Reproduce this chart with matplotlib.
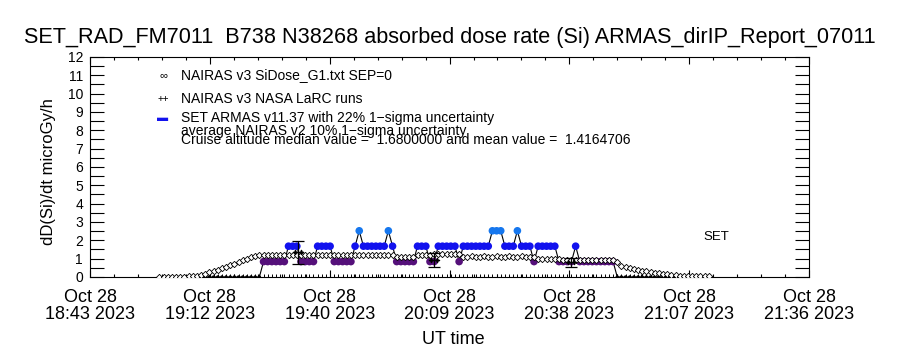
import matplotlib

matplotlib.use("Agg")
import matplotlib.pyplot as plt
import numpy as np
from matplotlib.ticker import AutoMinorLocator

plt.rcParams["font.family"] = ["Liberation Sans", "DejaVu Sans"]

# sample times, minutes after 18:00 UT on Oct 28 2023 (one-minute records)
t_min = list(range(60, 193))

# SET ARMAS dose rate, microGy/h
armas = [
    0, 0, 0, 0, 0, 0, 0, 0, 0, 0, 0, 0, 0, 0, 0, 0, 0, 0, 0, 0, 0, 0, 0, 0, 0,
    0.84, 0.84, 0.84, 0.84, 0.84, 0.84,
    1.68, 1.68, 1.68,
    0.84, 0.84, 0.84, 0.84,
    1.68, 1.68, 1.68, 1.68,
    0.84, 0.84, 0.84, 0.84, 0.84,
    1.68, 2.52,
    1.68, 1.68, 1.68, 1.68, 1.68, 1.68,
    2.52, 1.68,
    0.84, 0.84, 0.84, 0.84, 0.84,
    1.68, 1.68, 1.68,
    0.84, 0.84,
    1.68, 1.68, 1.68, 1.68, 1.68,
    0.84,
    1.68, 1.68, 1.68, 1.68, 1.68, 1.68, 1.68,
    2.52, 2.52, 2.52,
    1.68, 1.68, 1.68,
    2.52,
    1.68, 1.68, 1.68,
    0.84,
    1.68, 1.68, 1.68, 1.68, 1.68,
    0.84, 0.84, 0.84, 0.84,
    1.68,
    0.84, 0.84, 0.84, 0.84, 0.84, 0.84, 0.84, 0.84, 0.84,
    0, 0, 0, 0, 0, 0, 0, 0, 0, 0, 0, 0, 0, 0, 0, 0, 0, 0, 0, 0, 0, 0, 0,
]

# NAIRAS v3 SiDose_G1 model, same time grid
nairas = [
    0.02, 0.02, 0.02, 0.02, 0.02, 0.02, 0.02,
    0.03, 0.05, 0.08, 0.12, 0.18, 0.25, 0.32, 0.40, 0.48, 0.56, 0.64, 0.72,
    0.82, 0.90, 0.98, 1.08, 1.15, 1.20,
    1.22, 1.20, 1.22, 1.20, 1.20, 1.22, 1.20, 1.20, 1.22, 1.20, 1.20, 1.20,
    1.22, 1.20, 1.20, 1.22, 1.20, 1.20, 1.20, 1.22, 1.20, 1.20, 1.22, 1.20,
    1.20, 1.22, 1.20, 1.20, 1.20, 1.22, 1.20, 1.20,
    1.10, 1.10, 1.10, 1.10, 1.10,
    1.20, 1.22, 1.22, 1.22, 1.24, 1.24, 1.24, 1.24, 1.24, 1.24, 1.24,
    1.10, 1.10, 1.12, 1.10, 1.10, 1.12, 1.10, 1.10, 1.12, 1.10, 1.10, 1.12,
    1.10, 1.10, 1.12, 1.10, 1.10, 1.10,
    1.00, 1.00, 1.00, 0.98, 0.98, 0.98,
    0.95, 0.95, 0.95, 0.95, 0.95, 0.95, 0.95, 0.95, 0.95, 0.95, 0.95, 0.95, 0.95,
    0.80, 0.62, 0.56, 0.50, 0.44, 0.40, 0.35, 0.30, 0.27, 0.23, 0.20, 0.17,
    0.14, 0.12, 0.10, 0.08, 0.07,
    0.05, 0.05, 0.05, 0.05, 0.05, 0.05,
]

# NAIRAS v3 NASA LaRC runs with 10% uncertainty bars
larc_t = [93.3, 126.0, 159.0]
larc_val = [1.35, 0.93, 0.80]
larc_err = [0.63, 0.36, 0.23]

x_range = (43.3, 216.1)
x_tick_labels = [
    "Oct 28\n18:43 2023",
    "Oct 28\n19:12 2023",
    "Oct 28\n19:40 2023",
    "Oct 28\n20:09 2023",
    "Oct 28\n20:38 2023",
    "Oct 28\n21:07 2023",
    "Oct 28\n21:36 2023",
]
y_ticks = list(range(0, 13))

level_colors = {0: "black", 0.84: "#55107a", 1.68: "#1212ee", 2.52: "#1677ee"}

title = "SET_RAD_FM7011  B738 N38268 absorbed dose rate (Si) ARMAS_dirIP_Report_07011"
legend_lines = [
    "NAIRAS v3 SiDose_G1.txt SEP=0",
    "NAIRAS v3 NASA LaRC runs",
    "SET ARMAS v11.37 with 22% 1\u2212sigma uncertainty",
    "average NAIRAS v2 10% 1\u2212sigma uncertainty",
    "Cruise altitude median value =  1.6800000 and mean value =  1.4164706",
]

fig = plt.figure(figsize=(9, 3.5), dpi=100)
ax = fig.add_axes([0.1, 0.2086, 0.799, 0.6286])

ax.plot(t_min, np.zeros(len(t_min)), ls="none", marker="|", ms=5, mew=0.7,
        color="black", zorder=2)
ax.plot(t_min, nairas, ls="none", marker="D", ms=3.2, mfc="white", mec="black",
        mew=0.6, zorder=4)
ax.plot(t_min, armas, color="black", lw=0.8, zorder=2)
colors = [level_colors[v] for v in armas]
sizes = [6 if v == 0 else 30 for v in armas]
ax.scatter(t_min, armas, c=colors, s=sizes, linewidths=0, zorder=3)
ax.errorbar(larc_t, larc_val, yerr=larc_err, fmt="none", ecolor="black",
            elinewidth=0.9, capsize=4, capthick=0.9, zorder=5)
ax.plot(larc_t, larc_val, ls="none", marker=r"$++$", ms=7, color="black", zorder=5)

ax.set_xlim(x_range)
ax.set_ylim(0, 12)
ax.set_xticks(np.linspace(x_range[0], x_range[1], 7))
ax.set_xticklabels(x_tick_labels)
ax.set_yticks(y_ticks)
ax.xaxis.set_minor_locator(AutoMinorLocator(5))
ax.yaxis.set_minor_locator(AutoMinorLocator(2))
ax.tick_params(which="both", direction="in", top=True, right=True, width=0.8)
ax.tick_params(axis="x", which="major", length=5, labelsize=13, pad=9)
ax.tick_params(axis="x", which="minor", length=2.5)
ax.tick_params(axis="y", which="both", length=10, labelsize=10, pad=5)
for lab in ax.get_xticklabels():
    lab.set_linespacing(0.95)
for sp in ax.spines.values():
    sp.set_linewidth(0.8)

ax.set_ylabel("dD(Si)/dt microGy/h", fontsize=12)
ax.yaxis.set_label_coords(-0.047, 0.48)
ax.set_xlabel("UT time", fontsize=13)
ax.xaxis.set_label_coords(0.505, -0.245)

fig.text(0.5, 1 - 37 / 350, title, ha="center", va="center", fontsize=15.6)

# legend block drawn as IDL-style text lines
leg_y = [0.918, 0.809, 0.7227, 0.664, 0.623]
for txt, yy in zip(legend_lines, leg_y):
    ax.text(0.1266, yy, txt, transform=ax.transAxes, fontsize=10, va="center")
ax.text(0.1015, leg_y[0], "\u221e", transform=ax.transAxes, fontsize=8,
        ha="center", va="center")
ax.text(0.1015, leg_y[1], "++", transform=ax.transAxes, fontsize=7,
        ha="center", va="center")
ax.text(0.1015, leg_y[2], "\u25ac", transform=ax.transAxes, fontsize=8,
        ha="center", va="center", color="#1212ee")
ax.text(0.8526, 0.182, "SET", transform=ax.transAxes, fontsize=9.5, va="center")

fig.savefig("out.png", dpi=100)
plt.close(fig)
